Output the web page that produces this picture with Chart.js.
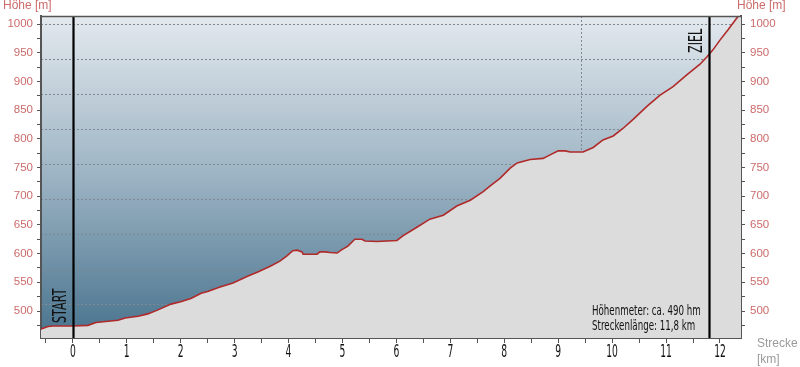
<!DOCTYPE html>
<html><head><meta charset="utf-8">
<script src="https://cdn.jsdelivr.net/npm/chart.js@4"></script>
<style>html,body{margin:0;padding:0;background:#fff}#wrap{width:800px;height:367px;position:relative}</style>
</head><body><div id="wrap"><canvas id="c" width="800" height="367"></canvas></div>
<script>
// ---- data ----
const distanceKm = [-0.6, -0.575, -0.46, -0.37, 0, 0.28, 0.43, 0.84, 0.97, 1.21, 1.39, 1.58, 1.82, 2.0, 2.19, 2.38, 2.5, 2.73, 2.97, 3.25, 3.43, 3.66, 3.84, 3.97, 4.08, 4.16, 4.25, 4.27, 4.53, 4.58, 4.68, 4.77, 4.9, 4.99, 5.1, 5.23, 5.36, 5.42, 5.64, 6.01, 6.12, 6.38, 6.62, 6.87, 7.12, 7.37, 7.61, 7.74, 7.92, 8.11, 8.24, 8.48, 8.72, 8.85, 9.0, 9.13, 9.22, 9.46, 9.65, 9.83, 10.02, 10.2, 10.39, 10.65, 10.89, 11.13, 11.39, 11.63, 11.76, 11.87, 12.0, 12.15, 12.34, 12.4];
const elevationM = [468, 469, 473, 474, 474, 475, 480, 484, 488, 491, 495, 502, 512, 516, 522, 531, 534, 542, 549, 561, 568, 578, 587, 596, 605, 606, 603, 599, 599, 603, 603, 602, 601, 607, 613, 625, 625, 622, 621, 623, 631, 646, 660, 667, 683, 693, 708, 718, 731, 749, 758, 764, 766, 772, 779, 779, 777, 777, 785, 798, 805, 818, 834, 857, 876, 891, 912, 930, 943, 955, 972, 990, 1014, 1022];
const yTickValues = [475, 500, 525, 550, 575, 600, 625, 650, 675, 700, 725, 750, 775, 800, 825, 850, 875, 900, 925, 950, 975, 1000];
const yGridValues = [1000, 939, 878, 817, 756, 695, 634, 573, 512];
const xTickValues = [-0.5, 0, 0.5, 1, 1.5, 2, 2.5, 3, 3.5, 4, 4.5, 5, 5.5, 6, 6.5, 7, 7.5, 8, 8.5, 9, 9.5, 10, 10.5, 11, 11.5, 12];
const xGridValues = [9.43];
const markerKm = [0, 11.8];
const markerLabels = ['START', 'ZIEL'];
const infoLines = ['Höhenmeter: ca. 490 hm', 'Streckenlänge: 11,8 km'];
const yTitle = 'Höhe [m]';
const xTitle = ['Strecke', '[km]'];

const X_MIN = -0.59, X_MAX = 12.39, Y_MIN = 453, Y_MAX = 1014;
const AXIS = '#555555';
const RED_TXT = '#cc6b6b';

function narrowText(ctx, text, x, y, font, sx, align, baseline, color, rot) {
  ctx.save();
  ctx.translate(x, y);
  if (rot) ctx.rotate(rot);
  ctx.scale(sx, 1);
  ctx.font = font;
  ctx.fillStyle = color;
  ctx.textAlign = align;
  ctx.textBaseline = baseline;
  ctx.fillText(text, 0, 0);
  ctx.restore();
}

const decor = {
  id: 'decor',
  beforeDraw(chart) {
    const {ctx, chartArea: a} = chart;
    const g = ctx.createLinearGradient(0, a.top, 0, a.bottom);
    g.addColorStop(0, '#e3e9ee');
    g.addColorStop(0.5, '#9cb3c3');
    g.addColorStop(1, '#48738e');
    ctx.save();
    ctx.fillStyle = g;
    ctx.fillRect(a.left, a.top, a.right - a.left, a.bottom - a.top);
    ctx.restore();
  },
  afterDatasetsDraw(chart) {
    const {ctx, chartArea: a, scales} = chart;
    const xs = scales.x;
    ctx.save();
    markerKm.forEach((km, i) => {
      const px = Math.round(xs.getPixelForValue(km)) + 0.5;
      ctx.strokeStyle = '#000';
      ctx.lineWidth = 2.2;
      ctx.beginPath();
      ctx.moveTo(px, a.top);
      ctx.lineTo(px, a.bottom);
      ctx.stroke();
      const yy = i === 0 ? a.bottom - 15 : a.top + 37;
      narrowText(ctx, markerLabels[i], px - 3, yy, '20px "DejaVu Sans"', 0.56, 'left', 'bottom', '#111', -Math.PI / 2);
    });
    narrowText(ctx, infoLines[0], a.right - 149, a.bottom - 27, '14px "DejaVu Sans"', 0.62, 'left', 'middle', '#111');
    narrowText(ctx, infoLines[1], a.right - 149, a.bottom - 12, '14px "DejaVu Sans"', 0.62, 'left', 'middle', '#111');
    ctx.restore();
  },
  afterDraw(chart) {
    const {ctx, chartArea: a, scales} = chart;
    ctx.save();
    ctx.strokeStyle = AXIS;
    ctx.lineWidth = 1.5;
    ctx.beginPath();
    ctx.moveTo(a.left, a.top + 0.5);
    ctx.lineTo(a.right, a.top + 0.5);
    ctx.stroke();
    const xs = scales.x;
    xs.ticks.forEach((t, i) => {
      if (Number.isInteger(t.value)) {
        narrowText(ctx, String(t.value), xs.getPixelForTick(i), a.bottom + 15, '17px "DejaVu Sans"', 0.54, 'center', 'middle', '#111');
      }
    });
    ctx.font = '12px "Liberation Sans", Arial, sans-serif';
    ctx.fillStyle = RED_TXT;
    ctx.textBaseline = 'middle';
    ctx.textAlign = 'left';
    ctx.fillText(yTitle, 3, 6);
    ctx.fillText(yTitle, a.right - 4, 6);
    ctx.fillStyle = '#9a9a9a';
    ctx.font = '12px "Liberation Sans", Arial, sans-serif';
    ctx.fillText(xTitle[0], 757, 344);
    ctx.fillText(xTitle[1], 757, 360);
    ctx.restore();
  }
};

const yTickCb = v => (v % 50 === 0 ? String(v) : '');

new Chart(document.getElementById('c'), {
  type: 'line',
  data: {
    datasets: [{
      data: distanceKm.map((x, i) => ({x, y: elevationM[i]})),
      borderColor: '#b02a2a',
      borderWidth: 1.6,
      pointRadius: 0,
      tension: 0,
      fill: 'start',
      backgroundColor: '#dcdcdc'
    }]
  },
  options: {
    responsive: false,
    animation: false,
    events: [],
    layout: {padding: {top: 16, left: 0, right: 0, bottom: 0}},
    plugins: {legend: {display: false}, tooltip: {enabled: false}},
    scales: {
      x: {
        type: 'linear', position: 'bottom', min: X_MIN, max: X_MAX,
        afterBuildTicks: s => { s.ticks = xTickValues.map(v => ({value: v})); },
        afterFit: s => { s.height = 29; },
        ticks: {display: false, autoSkip: false},
        grid: {drawOnChartArea: false, tickLength: 5, color: AXIS, lineWidth: 1},
        border: {color: AXIS, width: 2}
      },
      xg: {
        type: 'linear', position: 'bottom', min: X_MIN, max: X_MAX,
        afterBuildTicks: s => { s.ticks = xGridValues.map(v => ({value: v})); },
        afterFit: s => { s.height = 0; },
        ticks: {display: false},
        grid: {drawOnChartArea: true, drawTicks: false, color: '#7d8a94', lineWidth: 1},
        border: {display: false, dash: [2, 2]}
      },
      y: {
        type: 'linear', position: 'left', min: Y_MIN, max: Y_MAX,
        afterBuildTicks: s => { s.ticks = yTickValues.map(v => ({value: v})); },
        afterFit: s => { s.width = 41; },
        ticks: {autoSkip: false, callback: yTickCb, color: RED_TXT, padding: 4,
                font: {family: '"Liberation Sans", Arial, sans-serif', size: 11.5}},
        grid: {drawOnChartArea: false, tickLength: 4, color: AXIS, lineWidth: 1},
        border: {color: AXIS, width: 2}
      },
      yg: {
        type: 'linear', position: 'left', min: Y_MIN, max: Y_MAX,
        afterBuildTicks: s => { s.ticks = yGridValues.map(v => ({value: v})); },
        afterFit: s => { s.width = 0; },
        ticks: {display: false},
        grid: {drawOnChartArea: true, drawTicks: false, color: '#7d8a94', lineWidth: 1},
        border: {display: false, dash: [2, 2]}
      },
      y2: {
        type: 'linear', position: 'right', min: Y_MIN, max: Y_MAX,
        afterBuildTicks: s => { s.ticks = yTickValues.map(v => ({value: v})); },
        afterFit: s => { s.width = 59; },
        ticks: {autoSkip: false, callback: yTickCb, color: RED_TXT, padding: 5,
                font: {family: '"Liberation Sans", Arial, sans-serif', size: 11.5}},
        grid: {drawOnChartArea: false, tickLength: 4, color: AXIS, lineWidth: 1},
        border: {color: AXIS, width: 2}
      }
    }
  },
  plugins: [decor]
});
</script>
</body></html>
